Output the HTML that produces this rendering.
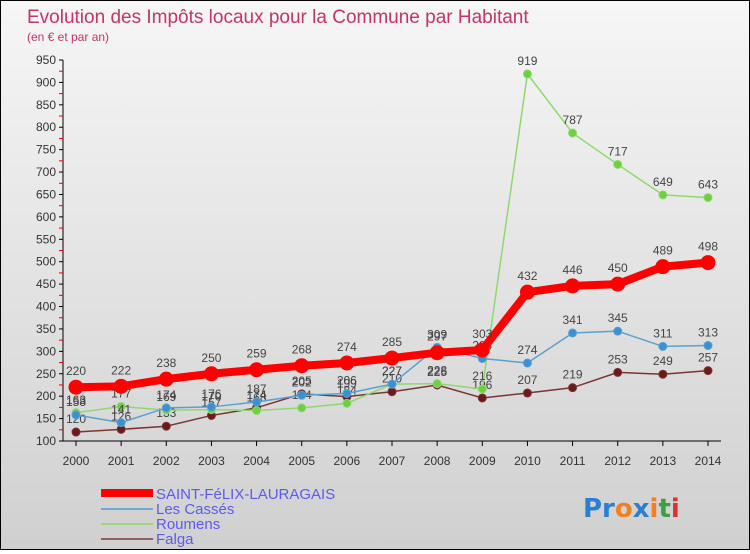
<!DOCTYPE html>
<html><head><meta charset="utf-8"><style>
body{margin:0;width:750px;height:550px;overflow:hidden;font-family:"Liberation Sans",sans-serif}
#wrap{position:relative;width:748px;height:548px;border:1px solid #000;background:linear-gradient(#f6f6f6,#d0d0d0)}
</style></head><body>
<div id="wrap">
<svg id="chart" width="748" height="548">
<text x="26" y="22" font-size="19" fill="#c8336a">Evolution des Impôts locaux pour la Commune par Habitant</text>
<text x="26" y="40" font-size="12" fill="#c8336a">(en € et par an)</text>
<g id="axes"></g><g id="series"></g>
<g>
<rect x="100" y="488" width="52" height="8" fill="#f00"/>
<text x="155" y="498" font-size="15" fill="#5b5bef">SAINT-FéLIX-LAURAGAIS</text>
<rect x="100" y="507" width="52" height="2" fill="#6fa8d0"/>
<text x="155" y="513" font-size="15" fill="#5b5bef">Les Cassés</text>
<rect x="100" y="522" width="52" height="2" fill="#9cd67f"/>
<text x="155" y="528" font-size="15" fill="#5b5bef">Roumens</text>
<rect x="100" y="537" width="52" height="2" fill="#8a6060"/>
<text x="155" y="543" font-size="15" fill="#5b5bef">Falga</text>
</g>
<text x="582" y="516" font-size="26" font-weight="bold" font-family="'DejaVu Sans',sans-serif"><tspan fill="#2a7fd4">Pr</tspan><tspan fill="#f08020">o</tspan><tspan fill="#2a7fd4">x</tspan><tspan fill="#f08020">i</tspan><tspan fill="#3aa040">t</tspan><tspan fill="#e03030">i</tspan></text>
</svg></div>
<script>
const years=[2000,2001,2002,2003,2004,2005,2006,2007,2008,2009,2010,2011,2012,2013,2014];
const yTicks=[100,150,200,250,300,350,400,450,500,550,600,650,700,750,800,850,900,950];
const saintFelix=[220,222,238,250,259,268,274,285,297,303,432,446,450,489,498];
const lesCasses=[158,141,174,176,187,202,206,227,309,284,274,341,345,311,313];
const roumens=[163,177,169,170,168,174,184,227,228,216,919,787,717,649,643];
const falga=[120,126,133,157,174,205,199,210,225,196,207,219,253,249,257];
const NS="http://www.w3.org/2000/svg";
const xs=i=>75+i*(707-75)/14;
const ys=v=>440-(v-100)*(440-59)/850;
function mk(t,a,p){const e=document.createElementNS(NS,t);for(const k in a)e.setAttribute(k,a[k]);p.appendChild(e);return e;}
const ax=document.getElementById('axes');
const yl=mk('line',{x1:62,y1:ys(950),x2:62,y2:440,stroke:'#000'},ax);


const xl=mk('line',{x1:62,y1:440,x2:720,y2:440,stroke:'#000'},ax);


yTicks.forEach(v=>{
 mk('line',{x1:58,y1:ys(v),x2:62,y2:ys(v),stroke:'#000'},ax);
 if(v<950)mk('line',{x1:58,y1:ys(v+25),x2:62,y2:ys(v+25),stroke:'#e00'},ax);
 const t=mk('text',{x:55,y:ys(v)+4,'text-anchor':'end','font-size':12,fill:'#333'},ax);
 t.textContent=v;
 
 
});
years.forEach((y,i)=>{
 mk('line',{x1:xs(i),y1:440,x2:xs(i),y2:445,stroke:'#000'},ax);
 const t=mk('text',{x:xs(i),y:464,'text-anchor':'middle','font-size':12,fill:'#333'},ax);
 t.textContent=y;
 
 
});
const sg=document.getElementById('series');
function draw(vals,name,color,dot,w,r){
 const g=mk('g',{},sg);
 
 
 const p=mk('polyline',{points:vals.map((v,i)=>xs(i)+','+ys(v)).join(' '),fill:'none',stroke:color,'stroke-width':w},g);
 
 
 vals.forEach((v,i)=>{
  const c=mk('circle',{cx:xs(i),cy:ys(v),r:r,fill:dot,stroke:color,'stroke-width':1},g);
  
  
  const t=mk('text',{x:xs(i),y:ys(v)-r-5,'text-anchor':'middle','font-size':12,fill:'#444'},g);
  t.textContent=v;
  
  
 });
}
draw(falga,'falga','#7a3535','#6b1a1a',1.5,4);
draw(roumens,'roumens','#8fd870','#6cd040',1.5,4);
draw(lesCasses,'les-casses','#5aa0d0','#3a90d0',1.5,4);
draw(saintFelix,'saint-felix','#f00','#f00',8,7);
</script>
</body></html>
